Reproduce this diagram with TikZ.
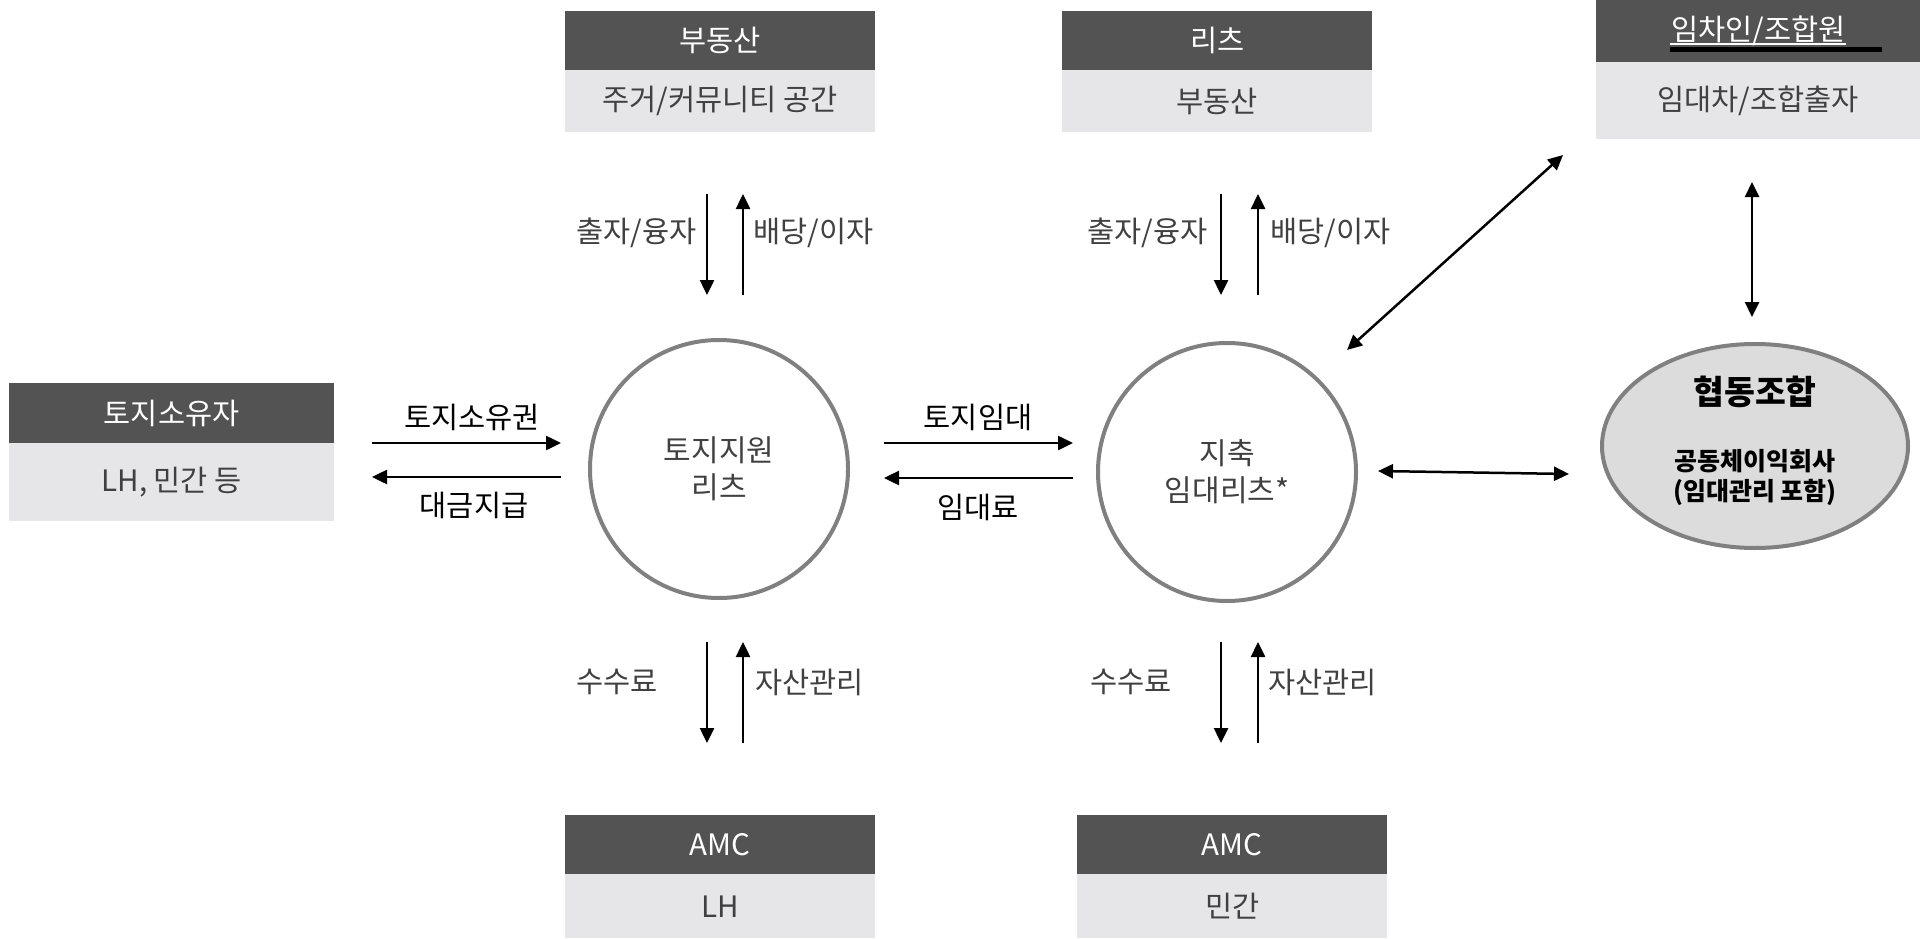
\documentclass[tikz,border=0pt]{standalone}
\usepackage{fontspec}
\setmainfont{Noto Sans CJK KR}
\usetikzlibrary{arrows.meta,shapes.geometric}
\definecolor{hdr}{HTML}{535353}
\definecolor{bodyc}{HTML}{E6E6E8}
\definecolor{txt}{HTML}{404040}
\definecolor{ring}{HTML}{808080}
\definecolor{coopfill}{HTML}{DCDCDC}
\newcommand\fsz[2]{\fontsize{#1}{#2}\selectfont}
\tikzset{
  hdrbox/.style={fill=hdr, text=white, inner sep=0pt, anchor=north west, font=\fsz{29.5}{34}},
  bodybox/.style={fill=bodyc, text=txt, inner sep=0pt, anchor=north west, font=\fsz{29.5}{34}},
  lbl/.style={text=txt, inner sep=0pt, font=\fsz{29.5}{34}},
  blk/.style={text=black, inner sep=0pt, font=\fsz{29.5}{34}},
  tip/.tip={Triangle[length=15pt,width=14pt]},
  flow/.style={line width=2.5pt, -tip},
  twoway/.style={line width=2.5pt, tip-tip},
  reit/.style={circle, draw=ring, line width=4pt, minimum size=258pt, inner sep=0pt, text=txt, align=center, font=\fsz{30}{37}},
}
\begin{document}
\begin{tikzpicture}[x=1pt,y=-1pt]
\useasboundingbox (0,0) rectangle (1925,939);

% boxes
\node[hdrbox, minimum width=310pt, minimum height=59pt] (reH) at (565,11) {부동산};
\node[bodybox, minimum width=310pt, minimum height=62pt] (reB) at (565,70) {주거/커뮤니티 공간};

\node[hdrbox, minimum width=310pt, minimum height=59pt] (rtH) at (1062,11) {리츠};
\node[bodybox, minimum width=310pt, minimum height=62pt] (rtB) at (1062,70) {부동산};

\node[hdrbox, minimum width=324pt, minimum height=62pt] (tnH) at (1596,0) {임차인/조합원};
\node[bodybox, minimum width=324pt, minimum height=77pt] (tnB) at (1596,62) {임대차/조합출자};
\coordinate (ulA) at (1670,44);
\coordinate (ulB) at (1846,44);
\draw[white, line width=1.5pt] (ulA) -- (ulB);
\coordinate (barA) at (1670,50);
\coordinate (barB) at (1882,50);
\draw[black, line width=5pt] (barA) -- (barB);

\node[hdrbox, minimum width=325pt, minimum height=60pt] (loH) at (9,383) {토지소유자};
\node[bodybox, minimum width=325pt, minimum height=78pt] (loB) at (9,443) {LH, 민간 등};

\node[hdrbox, minimum width=310pt, minimum height=59pt] (amH1) at (565,815) {AMC};
\node[bodybox, minimum width=310pt, minimum height=64pt] (amB1) at (565,874) {LH};

\node[hdrbox, minimum width=310pt, minimum height=59pt] (amH2) at (1077,815) {AMC};
\node[bodybox, minimum width=310pt, minimum height=64pt] (amB2) at (1077,874) {민간};

% circles
\node[reit] (c1) at (719,469) {토지지원\\리츠};
\node[reit] (c2) at (1227,472) {지축\\임대리츠*};

% ellipse
\node[ellipse, draw=ring, fill=coopfill, line width=4pt, minimum width=306pt, minimum height=204pt, inner sep=0pt] (coop) at (1755,446) {};
\node[inner sep=0pt, font=\fsz{33.5}{38}\bfseries] (coopT) at (1755,392) {협동조합};
\node[inner sep=0pt, align=center, font=\fsz{25}{30}\bfseries] (coopS) at (1755,477) {공동체이익회사\\(임대관리 포함)};

% arrow end coordinates
\coordinate (a1s) at (707,194); \coordinate (a1e) at (707,295);
\coordinate (a2s) at (743,295); \coordinate (a2e) at (743,194);
\coordinate (a3s) at (1221,194); \coordinate (a3e) at (1221,295);
\coordinate (a4s) at (1258,295); \coordinate (a4e) at (1258,194);
\coordinate (b1s) at (707,642); \coordinate (b1e) at (707,743);
\coordinate (b2s) at (743,743); \coordinate (b2e) at (743,642);
\coordinate (b3s) at (1221,642); \coordinate (b3e) at (1221,743);
\coordinate (b4s) at (1258,743); \coordinate (b4e) at (1258,642);
\coordinate (h1s) at (372,443); \coordinate (h1e) at (561,443);
\coordinate (h2s) at (561,477); \coordinate (h2e) at (372,477);
\coordinate (m1s) at (884,443); \coordinate (m1e) at (1073,443);
\coordinate (m2s) at (1073,478); \coordinate (m2e) at (884,478);
\coordinate (dgA) at (1347,350); \coordinate (dgB) at (1563,155);
\coordinate (hdA) at (1378,471); \coordinate (hdB) at (1569,474);
\coordinate (vdA) at (1752,182); \coordinate (vdB) at (1752,317);

\draw[flow] (a1s) -- (a1e);
\draw[flow] (a2s) -- (a2e);
\draw[flow] (a3s) -- (a3e);
\draw[flow] (a4s) -- (a4e);
\draw[flow] (b1s) -- (b1e);
\draw[flow] (b2s) -- (b2e);
\draw[flow] (b3s) -- (b3e);
\draw[flow] (b4s) -- (b4e);
\draw[flow] (h1s) -- (h1e);
\draw[flow] (h2s) -- (h2e);
\draw[flow] (m1s) -- (m1e);
\draw[flow] (m2s) -- (m2e);
\draw[twoway] (dgA) -- (dgB);
\draw[twoway] (hdA) -- (hdB);
\draw[twoway] (vdA) -- (vdB);

% labels
\node[blk] (l1) at (472,417) {토지소유권};
\node[blk] (l2) at (474,505) {대금지급};
\node[blk] (l3) at (978,417) {토지임대};
\node[blk] (l4) at (978,507) {임대료};
\node[lbl, anchor=east] (l5) at (697,233) {출자/융자};
\node[lbl, anchor=west] (l6) at (753,233) {배당/이자};
\node[lbl, anchor=east] (l7) at (1208,233) {출자/융자};
\node[lbl, anchor=west] (l8) at (1270,233) {배당/이자};
\node[lbl, anchor=east] (l9) at (658,682) {수수료};
\node[lbl, anchor=west] (l10) at (755,682) {자산관리};
\node[lbl, anchor=east] (l11) at (1172,682) {수수료};
\node[lbl, anchor=west] (l12) at (1268,682) {자산관리};
\end{tikzpicture}
\end{document}
